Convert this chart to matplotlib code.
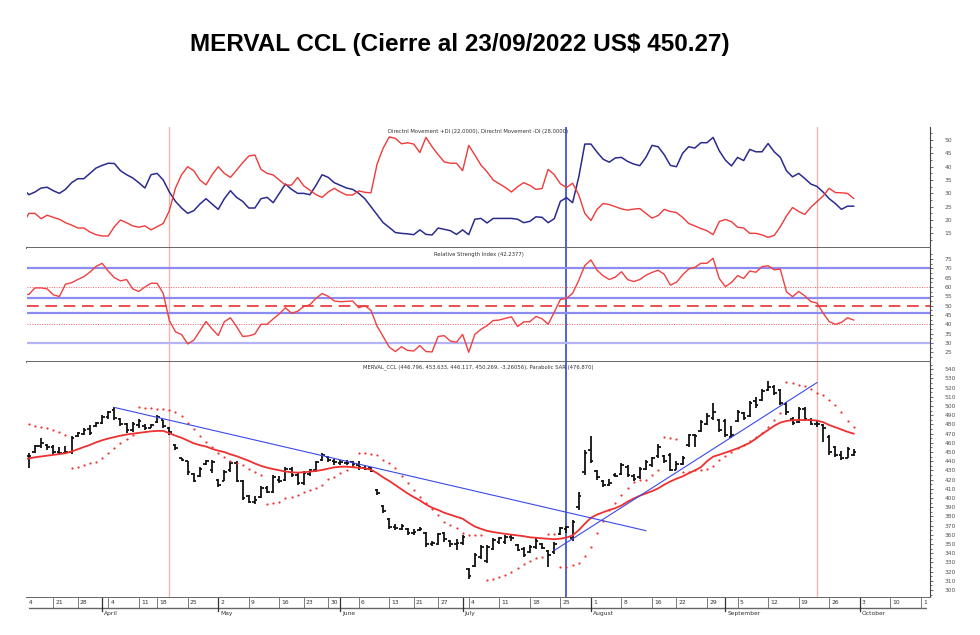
import numpy as np
import pandas as pd
import matplotlib
matplotlib.use('Agg')
import matplotlib.pyplot as plt
from matplotlib.patches import Rectangle

# ---- datos ----
feriados = ['2022-03-24', '2022-04-14', '2022-04-15', '2022-05-18', '2022-05-25',
            '2022-06-17', '2022-06-20', '2022-08-15']

apertura = [449, 446, 450, 457, 458, 455, 450, 449, 450, 467, 470, 475, 478, 482, 488, 496, 486, 480, 474, 479,
            478, 476, 483, 485, 476, 458, 443, 440, 426, 424, 437, 430, 420, 419, 430, 438, 418, 402, 396, 401,
            411, 407, 420, 420, 432, 425, 416, 426, 430, 441, 445, 440, 438, 438, 439, 436, 433, 433, 409, 391,
            377, 368, 366, 366, 362, 365, 362, 350, 350, 362, 353, 350, 351, 323, 326, 336, 331, 345, 352, 352,
            358, 349, 345, 341, 347, 350, 342, 341, 361, 366, 356, 390, 428, 452, 429, 419, 414, 425, 426, 434,
            424, 423, 432, 436, 446, 446, 447, 431, 437, 458, 468, 473, 480, 487, 485, 484, 466, 484, 492, 489,
            505, 507, 517, 521, 517, 502, 486, 483, 497, 485, 481, 479, 466, 455, 447, 444, 446.796]
maximo = [451, 449, 458, 465, 459, 458, 456, 457, 467, 472, 476, 479, 483, 490, 495, 499, 487, 482, 483, 486,
          480, 481, 490, 485, 477, 459, 443, 440, 427, 434, 441, 441, 421, 430, 440, 440, 420, 403, 402, 413,
          413, 425, 424, 434, 434, 427, 429, 432, 440, 449, 446, 442, 441, 441, 440, 440, 435, 434, 410, 392,
          378, 372, 372, 367, 366, 369, 363, 353, 362, 363, 354, 355, 360, 324, 340, 349, 349, 356, 358, 360,
          360, 350, 347, 349, 356, 351, 343, 352, 369, 370, 376, 407, 452, 467, 430, 420, 421, 427, 438, 436,
          426, 434, 441, 445, 459, 447, 449, 440, 446, 470, 470, 485, 492, 503, 486, 486, 478, 496, 493, 505,
          510, 518, 527, 523, 518, 504, 488, 499, 499, 487, 484, 481, 468, 457, 451, 455, 453.633]
minimo = [443, 433, 449, 454, 452, 448, 448, 448, 448, 466, 469, 469, 477, 481, 486, 485, 478, 471, 472, 476,
          474, 476, 482, 476, 469, 452, 440, 425, 417, 423, 436, 427, 412, 418, 428, 417, 398, 395, 394, 400,
          405, 405, 416, 418, 423, 414, 414, 424, 428, 440, 439, 436, 436, 436, 434, 431, 430, 428, 403, 384,
          366, 365, 365, 360, 360, 364, 347, 348, 349, 352, 347, 343, 349, 312, 325, 334, 329, 343, 350, 350,
          353, 342, 336, 340, 345, 345, 325, 339, 360, 362, 353, 387, 425, 438, 420, 412, 413, 423, 425, 423,
          418, 421, 430, 434, 443, 438, 429, 430, 436, 456, 455, 472, 479, 485, 472, 466, 465, 483, 485, 488,
          498, 506, 516, 512, 501, 490, 479, 482, 484, 479, 477, 461, 447, 445, 441, 443, 446.117]
cierre = [445, 446, 457, 460, 455, 450, 449, 450, 465, 471, 474, 471, 482, 488, 493, 487, 480, 474, 480, 484,
          476, 479, 488, 478, 472, 454, 441, 428, 419, 432, 440, 439, 414, 428, 438, 419, 400, 396, 398, 411,
          407, 423, 418, 432, 425, 416, 427, 430, 439, 447, 441, 439, 439, 438, 437, 434, 432, 429, 405, 386,
          369, 367, 370, 362, 363, 366, 350, 351, 361, 355, 350, 351, 358, 315, 338, 347, 347, 354, 356, 358,
          356, 344, 338, 347, 353, 346, 338, 350, 367, 368, 374, 402, 449, 440, 423, 414, 416, 424, 436, 425,
          421, 432, 439, 443, 455, 440, 431, 437, 444, 468, 467, 483, 489, 493, 474, 468, 469, 494, 487, 503,
          501, 516, 521, 514, 503, 493, 482, 497, 486, 481, 480, 476, 450, 447, 443, 453, 450.269]
media = [442, 443, 444.3, 445.2, 446, 447, 448, 448.7, 450.5, 453, 455.5, 457.7, 460.5, 462.8, 464.7, 466.3,
         467.8, 469, 470, 470.8, 471.5, 472.5, 473, 473, 470.5, 467.8, 465.5, 462.5, 459.5, 457.5, 456, 453.5,
         451.5, 450, 447.5, 445.5, 443, 440.5, 437.5, 435, 433, 431.5, 430.2, 428.8, 428, 427.6, 428, 428.7,
         429.5, 430.5, 432, 433.4, 434, 434.1, 433.5, 433, 432.3, 430.8, 427, 422.5, 418.5, 414, 409.5, 405,
         401, 397.5, 393, 389.5, 387, 384, 381.8, 379.5, 377.5, 373, 369, 366.5, 364.3, 363, 362, 361, 360.2,
         359.5, 358.5, 357.3, 356.7, 356.2, 355.7, 355.2, 355.8, 357, 359.3, 365, 372, 378.5, 382, 384.5, 387,
         389, 392, 396, 399.5, 402.5, 405, 407.5, 410.5, 414.5, 418, 421, 423.5, 427, 430, 433.5, 440, 445,
         447, 449.3, 451.5, 454, 457, 460, 464.5, 469.5, 474, 478.5, 482, 483.8, 484.7, 484.9, 484.9, 484.8,
         484.1, 482.5, 479.4, 477, 474.5, 472, 470]
sar = [481.2, 480.1, 478.7, 477.3, 475.8, 473.5, 471.5, 469, 433, 434, 436, 437.7, 439.5, 443.9, 448.6, 454,
       459.5, 463.8, 468.5, 499.4, 498.3, 497.5, 496.8, 496.5, 495.7, 494, 489, 481.2, 474.7, 467.5, 461.3,
       455.8, 449.3, 445, 440.6, 438.5, 436, 432, 428.7, 425, 393.5, 394.2, 396, 399.7, 401.5, 403.3, 406.9,
       408.7, 410.5, 414.2, 420.3, 423.2, 426.9, 430.5, 434.8, 449, 448.6, 447.9, 446.8, 441, 438, 432.3, 424,
       416, 408.7, 401.5, 395, 387.7, 381.5, 374.3, 370.5, 367, 362, 360, 359.8, 359.5, 310.9, 311.6, 314.5,
       316.3, 319.9, 323.5, 328.3, 331.9, 334.4, 336, 360.9, 360.5, 324.6, 325.4, 326.8, 329.7, 337, 347.1,
       361.6, 375, 387, 395, 403.3, 410.5, 417.8, 419.6, 419.6, 425, 430.5, 466, 464.9, 463.8, 428, 428.7,
       430, 430.5, 431.2, 434.8, 441.3, 445.7, 450.4, 454, 458, 462, 466, 471, 477.6, 485, 492, 526.5, 525,
       523, 522, 519, 514.6, 512, 507, 501, 493, 484, 476.87]
di_mas = [31.9, 29.5, 30.5, 32, 32.3, 31, 30, 31.5, 34, 35.5, 35.5, 37.5, 39.5, 40.5, 41.3, 41.2, 38.5, 37,
          35.8, 34, 32, 37, 37.5, 35, 30.5, 27, 24.5, 22.5, 23.5, 26, 28, 26, 24, 28, 31, 28.5, 27, 24.5, 24.5,
          28, 28.5, 26.5, 30, 33.5, 31.5, 30, 30, 29.5, 33, 37, 36, 34, 33, 32, 31.5, 30, 28, 25, 22, 19, 17.2,
          15.3, 15, 14.8, 14.5, 16.3, 14.6, 14.4, 17, 16.5, 16, 14.6, 16.3, 14.5, 20.3, 20.6, 18.9, 20.6, 20.6,
          20.6, 20.6, 20.3, 19, 19.5, 21.2, 21, 19, 20.5, 27, 28.4, 26.5, 36, 48.5, 48.5, 45.5, 42.8, 41.7, 43.3,
          43.5, 42, 41, 40.4, 43.5, 48, 47.5, 44.5, 40.5, 40, 45, 47.5, 47, 49, 49, 51, 46, 42.5, 40.3, 43.5,
          42.3, 46.5, 45.6, 45.6, 48.7, 45.6, 43.5, 38.5, 36.2, 37.5, 35.6, 33.5, 32.6, 30.5, 28, 26.2, 24,
          25.2, 25.2]
di_menos = [18.1, 22.5, 22.5, 20.5, 21.8, 21, 20.3, 19, 18.1, 17, 17, 15.5, 14.5, 14, 14, 17.5, 20, 19, 17.8,
            17.3, 17.8, 16.3, 17.5, 18.7, 23.5, 32, 37, 40, 38.5, 35, 33.2, 37, 40, 37.5, 36, 38.7, 41.5, 44,
            44.4, 39, 37.5, 36.9, 35, 33.1, 33.1, 36, 32.8, 31.2, 29.5, 28.5, 30.5, 31.9, 30.5, 29.4, 29.4, 30.9,
            30.4, 30.2, 41, 47, 51.2, 50.6, 48.6, 49, 48.5, 45.3, 51, 47.5, 44.5, 41.8, 41.3, 41.3, 38.5, 48,
            44.4, 40.6, 38.1, 35, 33.6, 32.2, 30.5, 32.5, 34, 33, 31.5, 31.8, 39, 37, 33.6, 32.2, 33.8, 29.5,
            22.5, 19.8, 24, 26.2, 25.8, 25, 24.2, 23.7, 24.1, 24.3, 22.5, 20.7, 21.7, 24, 23.2, 22.8, 21, 18.7,
            17.8, 16.8, 16, 14.5, 19.4, 20.2, 19.4, 17.3, 17, 15, 15, 14.4, 13.5, 14.2, 17.5, 21.5, 24.7, 23.2,
            22.1, 24.8, 26.9, 29, 31.9, 30.3, 30.2, 30, 28.1]
rsi = [56.1, 56, 59.5, 59.5, 59, 55.8, 54.9, 61.5, 62.3, 64, 65.5, 68, 71, 72.7, 68.5, 65, 63.3, 64, 59, 57.6,
       60, 62, 62, 56.5, 42, 36, 34.5, 29.5, 31.5, 36.5, 41.5, 37.5, 34, 41.4, 43.5, 38.8, 33.5, 33.8, 34.8,
       40, 40, 42.9, 45.6, 48.9, 45.9, 47, 49.5, 50.5, 53.9, 56.5, 55, 52.5, 52.1, 52.3, 52.5, 48.9, 50, 47.5,
       39, 33.4, 27.8, 25.4, 28, 26, 25.7, 28.6, 25.4, 25.2, 33.5, 33.9, 31, 30.4, 34.6, 25, 34.6, 37.3, 39.3,
       42, 42.3, 43.2, 44, 38.8, 41.3, 41.4, 44.2, 43, 40, 46.5, 53.3, 53.9, 56.6, 63.5, 71.5, 74.5, 69, 66,
       64, 65.3, 68.2, 64, 62.9, 64, 66.3, 67.8, 69, 66.8, 61, 62.5, 66.5, 69.6, 70.5, 72.7, 72.7, 75.4, 64.6,
       60.2, 62.4, 66.1, 64.6, 68.6, 67.9, 70.9, 71.4, 69.2, 69.6, 57.5, 54.8, 57.6, 55.3, 52.2, 51.4, 46,
       41.5, 40, 41, 43.5, 42.3]

# lineas de tendencia (fecha, valor) y marcas verticales
tendencia_baja = (['2022-04-05', '2022-08-12'], [498.5, 364.5])
tendencia_alta = (['2022-07-22', '2022-09-22'], [343, 525.5])
marcas_rojas = ['2022-04-20', '2022-09-22']
marca_azul = '2022-07-26'

# ---- eje de fechas (dias habiles) ----
fechas = pd.bdate_range('2022-03-14', '2022-09-30')
fechas = fechas[~fechas.isin(pd.to_datetime(feriados))]
futuro = pd.bdate_range('2022-10-03', '2022-10-21')
todas = fechas.append(futuro)
pos = pd.Series(np.arange(len(todas)), index=todas)
x = np.arange(len(fechas))

def px(fecha):
    return pos[pd.Timestamp(fecha)]

semana = todas.to_period('W')
ticks_sem = [i for i in range(len(todas)) if i == 0 or semana[i] != semana[i - 1]]
ticks_mes = [i for i in range(1, len(todas)) if todas[i].month != todas[i - 1].month]
meses = {4: 'April', 5: 'May', 6: 'June', 7: 'July', 8: 'August', 9: 'September', 10: 'October'}

# ---- figura ----
fig = plt.figure(figsize=(9.8, 6.35), dpi=100)
W, H = 980, 635
izq, der = 27, 930

def caja(y0, y1):
    return [izq / W, 1 - y1 / H, (der - izq) / W, (y1 - y0) / H]

ax_dmi = fig.add_axes(caja(127, 248))
ax_rsi = fig.add_axes(caja(248, 362))
ax_p = fig.add_axes(caja(362, 598))
ax_f = fig.add_axes(caja(598, 617))

xlim = (0.7, 148.5)
gris = '#555555'
for ax in (ax_dmi, ax_rsi, ax_p, ax_f):
    ax.set_xlim(*xlim)
    for s in ('top', 'left'):
        ax.spines[s].set_visible(False)
    ax.spines['right'].set_color('#444444')
    ax.spines['bottom'].set_color('#666666')
    ax.spines['bottom'].set_linewidth(1.4)
    ax.set_xticks([])
    ax.yaxis.tick_right()
    ax.tick_params(axis='y', which='both', labelsize=4.3, colors=gris, length=2.5, width=0.6, pad=8)
    ax.tick_params(axis='y', which='minor', length=1.5)

# DMI
ax_dmi.plot(x, di_mas, color='#2b2b8f', lw=1.1)
ax_dmi.plot(x, di_menos, color='#f03a3a', lw=1.0)
ax_dmi.set_ylim(9.5, 54.9)
ax_dmi.set_yticks(np.arange(15, 51, 5))
ax_dmi.set_yticks(np.arange(12.5, 54, 2.5), minor=True)
ax_dmi.text(0.5, 0.965, 'Directnl Movement +DI (22.0000), Directnl Movement -DI (28.0000)',
            transform=ax_dmi.transAxes, ha='center', va='center', fontsize=3.8, color='#333333')

# RSI
for nivel, col in ((70, '#8c8cf0'), (54, '#8c8cf0'), (46, '#8c8cf0'), (30, '#b4b4f6')):
    ax_rsi.axhline(nivel, color=col, lw=1.6)
for nivel in (60, 40):
    ax_rsi.axhline(nivel, color='#f06060', lw=0.7, ls=(0, (1, 1.5)))
ax_rsi.axhline(50, color='#e83030', lw=1.2, ls=(0, (7, 4)))
ax_rsi.plot(x, rsi, color='#f04040', lw=1.0)
ax_rsi.set_ylim(19.8, 80.9)
ax_rsi.set_yticks(np.arange(25, 76, 5))
ax_rsi.set_yticks(np.arange(22.5, 80, 2.5), minor=True)
ax_rsi.text(0.5, 0.94, 'Relative Strength Index (42.2377)', transform=ax_rsi.transAxes,
            ha='center', va='center', fontsize=3.8, color='#333333')

# Precio OHLC
ax_p.vlines(x, minimo, maximo, color='#111111', lw=1.3)
ax_p.hlines(apertura, x - 0.42, x, color='#111111', lw=1.3)
ax_p.hlines(cierre, x, x + 0.42, color='#111111', lw=1.3)
ax_p.plot(x, media, color='#ee3030', lw=1.3)
ax_p.plot(x, sar, ls='none', marker='o', ms=1.6, mec='none', mfc='#ee3333')
for fechas_t, valores_t in (tendencia_baja, tendencia_alta):
    ax_p.plot([px(f) for f in fechas_t], valores_t, color='#3a4ae8', lw=0.8)
ax_p.set_ylim(291.3, 547.9)
ax_p.set_yticks(np.arange(300, 541, 10))
ax_p.set_yticks(np.arange(295, 546, 5), minor=True)
ax_p.text(0.5, 0.978, 'MERVAL_CCL (446.796, 453.633, 446.117, 450.269, -3.26056), Parabolic SAR (476.870)',
          transform=ax_p.transAxes, ha='center', va='center', fontsize=3.8, color='#333333')

# lineas verticales sobre los tres paneles
for ax in (ax_dmi, ax_rsi, ax_p):
    for f in marcas_rojas:
        ax.axvline(px(f), color='#f5b3b3', lw=1.0, zorder=0)
    ax.axvline(px(marca_azul), color='#2236cc', lw=1.1, zorder=0)

# banda de fechas
ax_f.set_ylim(0, 1)
ax_f.set_yticks([])
ax_f.spines['bottom'].set_visible(False)
ax_f.spines['right'].set_visible(False)
ax_f.axhline(0.47, color='#666666', lw=1.0)
for i in ticks_sem:
    ax_f.plot([i, i], [1, 0.47], color='#666666', lw=0.6)
    ax_f.text(i + 0.35, 0.74, str(todas[i].day), fontsize=4.3, color='#333333',
              ha='left', va='center')
for i in ticks_mes:
    ax_f.plot([i, i], [1, 0.3], color='#333333', lw=0.9)
    ax_f.text(i + 0.35, 0.18, meses[todas[i].month], fontsize=4.3, color='#333333',
              ha='left', va='center')

# recorte de las etiquetas que salen del area del grafico
for x0, x1 in ((0, 28.5), (927, W)):
    fig.add_artist(Rectangle((x0 / W, 1 - 617 / H), (x1 - x0) / W, 19 / H, transform=fig.transFigure,
                             facecolor='white', edgecolor='none', zorder=10))

fig.text(460 / W, 1 - 45 / H, 'MERVAL CCL (Cierre al 23/09/2022 US$ 450.27)', ha='center', va='center',
         fontsize=17.5, fontweight='bold', family='Liberation Sans')

fig.savefig('out.png', dpi=100, facecolor='white')
